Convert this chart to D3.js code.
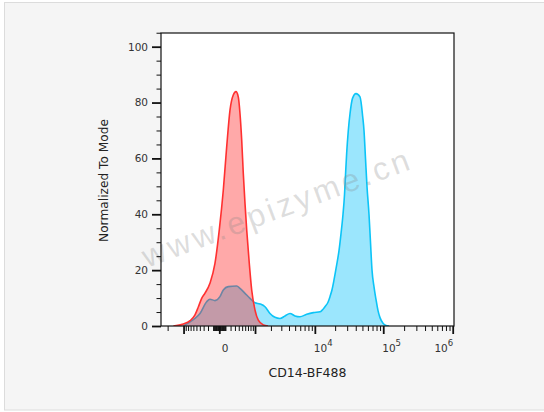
<!DOCTYPE html>
<html>
<head>
<meta charset="utf-8">
<script src="https://cdn.jsdelivr.net/npm/d3@7"></script>
<style>
  html, body { margin: 0; padding: 0; background: #ffffff; }
  svg { display: block; }
</style>
</head>
<body>
<svg id="chart" width="544" height="412"></svg>
<script>
// ---------- DATA ----------
// Red histogram (control): fluorescence intensity and normalized-to-mode %
const redIntensity = [-1580, -1010, -720, -550, -440, -350, -270, -160, -68, 0, 63, 123, 188, 260, 326, 387, 435, 486, 536, 593, 653, 751, 850, 1000, 1165, 1454, 1773];
const redMode      = [0, 0.7, 1.9, 3.9, 6.9, 9.9, 11.7, 15.3, 22.4, 34.4, 48.7, 64.2, 77.3, 82.7, 83.9, 82, 76.1, 66.6, 54.7, 43.9, 34.4, 22.4, 12.9, 5.7, 2.1, 0.4, 0];

// Blue histogram (CD14-BF488 stained)
const blueIntensity = [-1010, -720, -550, -395, -229, -160, -68, 10, 63, 153, 344, 435, 593, 779, 1000, 1258, 1564, 1925, 2351, 2854, 3447, 4147, 4973, 5947, 7533, 9481, 11940, 14170, 15700, 16800, 17990, 19250, 20940, 22790, 24370, 26080, 27430, 28360, 29530, 31160, 32990, 35870, 40330, 46100, 50430, 52690, 55380, 58210, 62230, 65420, 68820, 73550, 78590, 84020, 89770, 99190, 109600, 121100];
const blueMode      = [0, 1.5, 2.7, 4.5, 8.7, 9.6, 9.1, 10.5, 12.9, 14.1, 14.3, 13.5, 11.7, 9.9, 8.3, 7.9, 6.9, 4.5, 3.1, 2.7, 3.6, 4.5, 3.6, 3.3, 4.2, 4.8, 5.1, 6.9, 8.5, 10.5, 13, 16.5, 21.5, 27, 33, 40, 47, 54, 62, 70, 76, 81.5, 83.2, 82, 75, 70, 60, 50, 40, 30, 20, 14, 9.5, 5.5, 3, 1, 0.2, 0];

// Axis ticks
const yMajorTicks = [0, 20, 40, 60, 80, 100];
const yMinorTicks = [5, 10, 15, 25, 30, 35, 45, 50, 55, 65, 70, 75, 85, 90, 95, 105];
const xMajorTicks = [-1000, 0, 1000, 10000, 100000, 1000000];
const xMinorTicks = [-2000,
  -900, -800, -700, -600, -500, -400, -300, -200, -100,
  -90, -80, -70, -60, -50, -40, -30, -20, -10,
  10, 20, 30, 40, 50, 60, 70, 80, 90,
  100, 200, 300, 400, 500, 600, 700, 800, 900,
  2000, 3000, 4000, 5000, 6000, 7000, 8000, 9000,
  20000, 30000, 40000, 50000, 60000, 70000, 80000, 90000,
  200000, 300000, 400000, 500000, 600000, 700000, 800000, 900000];
const xLabelValues = [0, 10000, 100000, 1000000];
const xLabelBase   = ["0", "10", "10", "10"];
const xLabelExp    = ["", "4", "5", "6"];

const xTitle = "CD14-BF488";
const yTitle = "Normalized To Mode";
const watermark = "www.epizyme.cn";

// ---------- LAYOUT ----------
const svg = d3.select("#chart");
const L = 161, R = 454, T = 33, B = 326;
const font = "'DejaVu Sans', Verdana, sans-serif";

svg.append("rect").attr("x", 4.5).attr("y", 2.5).attr("width", 545).attr("height", 407.5)
  .attr("fill", "#f5f5f5").attr("stroke", "#dcdcdc");

svg.append("rect").attr("x", L).attr("y", T).attr("width", R - L).attr("height", B - T)
  .attr("fill", "#ffffff");

const x = d3.scaleSymlog().constant(442).domain([-2600, 1044000]).range([L, R]);
const y = d3.scaleLinear().domain([0, 104.9]).range([B, T]);

svg.append("defs").append("clipPath").attr("id", "plotclip")
  .append("rect").attr("x", L).attr("y", T).attr("width", R - L).attr("height", B - T);

const g = svg.append("g").attr("clip-path", "url(#plotclip)");

function series(xs, ys) { return xs.map((v, i) => ({ v: v, m: ys[i] })); }
const blue = series(blueIntensity, blueMode);
const red = series(redIntensity, redMode);

const area = d3.area().x(d => x(d.v)).y0(y(0)).y1(d => y(d.m)).curve(d3.curveMonotoneX);
const line = d3.line().x(d => x(d.v)).y(d => y(d.m)).curve(d3.curveMonotoneX);

g.append("path").datum(blue).attr("d", area).attr("fill", "#9be6fd");
g.append("path").datum(blue).attr("d", line).attr("fill", "none")
  .attr("stroke", "#0cc4f7").attr("stroke-width", 1.6);
g.append("path").datum(red).attr("d", area).attr("fill", "rgba(255,40,40,0.40)");
g.append("path").datum(red).attr("d", line).attr("fill", "none")
  .attr("stroke", "#ff3030").attr("stroke-width", 1.6);

// watermark
svg.append("text").text(watermark)
  .attr("transform", "translate(147,268) rotate(-20.5)")
  .attr("font-family", "'Liberation Sans', Arial, sans-serif")
  .attr("font-size", 32).attr("letter-spacing", 3.4)
  .attr("fill", "#888").attr("fill-opacity", 0.28);

// frame
svg.append("rect").attr("x", L).attr("y", T).attr("width", R - L).attr("height", B - T)
  .attr("fill", "none").attr("stroke", "#111").attr("stroke-width", 1.2);

// Y axis
const yMajor = svg.append("g").attr("transform", `translate(${L},0)`)
  .call(d3.axisLeft(y).tickValues(yMajorTicks).tickSize(9).tickPadding(4));
yMajor.select(".domain").remove();
yMajor.selectAll("line").attr("stroke", "#111").attr("stroke-width", 1.8);
yMajor.selectAll("text").attr("font-family", font).attr("font-size", 10.5).attr("fill", "#333");

const yMinor = svg.append("g").attr("transform", `translate(${L},0)`)
  .call(d3.axisLeft(y).tickValues(yMinorTicks).tickSize(4.5).tickFormat(""));
yMinor.select(".domain").remove();
yMinor.selectAll("line").attr("stroke", "#111").attr("stroke-width", 1);

// X axis
const xMajor = svg.append("g").attr("transform", `translate(0,${B})`)
  .call(d3.axisBottom(x).tickValues(xMajorTicks).tickSize(8).tickFormat(""));
xMajor.select(".domain").remove();
xMajor.selectAll("line").attr("stroke", "#111").attr("stroke-width", 1.8);

const xMinor = svg.append("g").attr("transform", `translate(0,${B})`)
  .call(d3.axisBottom(x).tickValues(xMinorTicks).tickSize(5).tickFormat(""));
xMinor.select(".domain").remove();
xMinor.selectAll("line").attr("stroke", "#111").attr("stroke-width", 1);

// X tick labels (0 and powers of ten)
xLabelValues.forEach((v, i) => {
  const last = i === xLabelValues.length - 1;
  const t = svg.append("text")
    .attr("font-family", font).attr("font-size", 10.5).attr("fill", "#333")
    .attr("y", 352);
  if (xLabelExp[i] === "") {
    t.attr("x", x(v) + 2.5).attr("text-anchor", "start").text(xLabelBase[i]);
  } else {
    t.attr("x", last ? x(v) + 0.5 : x(v) - 1).attr("text-anchor", last ? "end" : "start");
    t.append("tspan").text(xLabelBase[i]);
    t.append("tspan").attr("font-size", 8.5).attr("dy", -6).text(xLabelExp[i]);
  }
});

// Titles
svg.append("text").text(xTitle)
  .attr("x", (L + R) / 2).attr("y", 377).attr("text-anchor", "middle")
  .attr("font-family", font).attr("font-size", 12.5).attr("fill", "#222");

svg.append("text").text(yTitle)
  .attr("transform", `translate(108,${(T + B) / 2 + 1}) rotate(-90)`)
  .attr("text-anchor", "middle")
  .attr("font-family", font).attr("font-size", 12.2).attr("fill", "#222");
</script>
</body>
</html>
